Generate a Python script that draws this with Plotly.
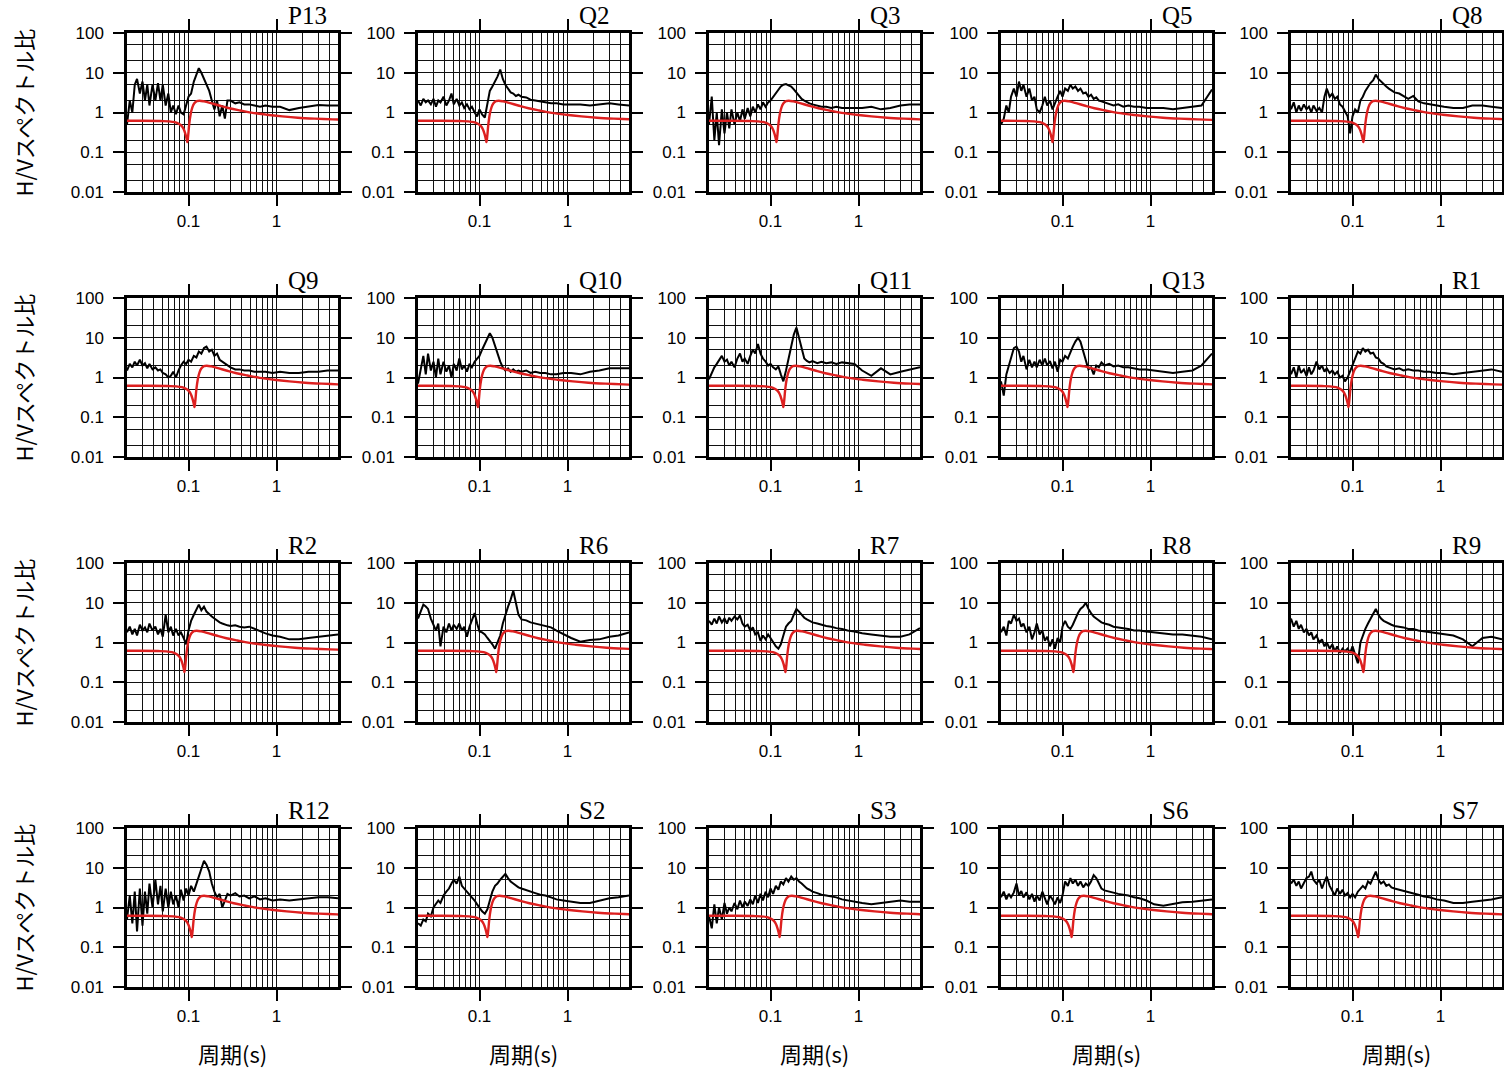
import plotly.graph_objects as go

# ---------------- data ----------------
STATIONS = ["P13", "Q2", "Q3", "Q5", "Q8",
            "Q9", "Q10", "Q11", "Q13", "R1",
            "R2", "R6", "R7", "R8", "R9",
            "R12", "S2", "S3", "S6", "S7"]

# periods (s) at which the observed H/V ratios were read
PERIOD = [0.020, 0.0215, 0.023, 0.0245, 0.026, 0.028, 0.030, 0.032, 0.034, 0.036,
          0.039, 0.042, 0.045, 0.048, 0.051, 0.055, 0.059, 0.063, 0.067, 0.072,
          0.077, 0.082, 0.088, 0.094, 0.100, 0.107, 0.115, 0.123, 0.131, 0.140,
          0.150, 0.160, 0.172, 0.184, 0.197, 0.211, 0.226, 0.242, 0.259, 0.277,
          0.30, 0.34, 0.38, 0.43, 0.49, 0.56, 0.65, 0.75, 0.90, 1.1,
          1.4, 1.8, 2.3, 3.0, 3.8, 5.0]

HV_P13 = [0.5, 2.0, 1.0, 5.0, 7.0, 3.0, 6.0, 2.0, 5.0, 1.5,
          5.0, 2.0, 5.5, 2.0, 5.0, 1.5, 3.0, 1.0, 1.5, 0.9,
          1.5, 1.0, 0.9, 1.5, 2.5, 3.0, 6.0, 9.0, 13.0, 10.0,
          7.0, 5.0, 3.5, 2.0, 1.2, 2.0, 0.8, 1.5, 0.7, 2.0,
          2.0, 1.7, 1.8, 1.6, 1.6, 1.5, 1.4, 1.5, 1.4, 1.4,
          1.15, 1.3, 1.4, 1.55, 1.5, 1.5]
HV_Q2 = [2.0, 1.5, 2.2, 1.8, 2.0, 1.6, 2.2, 1.4, 2.0, 1.8,
         2.5, 1.5, 2.0, 3.0, 1.6, 2.2, 1.5, 1.8, 1.3, 1.6,
         1.2, 1.4, 1.0, 0.8, 1.2, 0.9, 0.75, 1.8, 3.5, 4.5,
         6.0, 8.0, 12.0, 7.0, 5.0, 4.0, 3.2, 3.0, 2.6, 2.8,
         2.5, 2.4, 2.1, 2.0, 1.9, 1.8, 1.7, 1.7, 1.6, 1.6,
         1.6, 1.5, 1.6, 1.7, 1.6, 1.5]
HV_Q3 = [0.5, 2.5, 0.2, 1.0, 0.15, 1.2, 0.3, 1.0, 0.4, 1.2,
         0.5, 1.0, 0.6, 1.2, 0.7, 1.3, 0.8, 1.4, 1.0, 1.6,
         1.2, 1.8, 1.4, 1.8, 2.0, 2.5, 3.0, 3.8, 4.5, 5.0,
         5.2, 4.8, 4.5, 3.8, 3.2, 2.6, 2.2, 2.0, 1.8, 1.7,
         1.6, 1.5, 1.4, 1.4, 1.3, 1.4, 1.3, 1.3, 1.3, 1.3,
         1.4, 1.2, 1.3, 1.5, 1.6, 1.6]
HV_Q5 = [0.5, 0.7, 1.5, 1.0, 2.5, 4.0, 2.5, 6.0, 3.5, 5.0,
         2.5, 4.0, 2.0, 2.5, 1.2, 1.0, 1.5, 2.5, 1.5, 2.0,
         1.2, 1.8, 2.5, 3.5, 2.5, 4.0, 3.5, 5.0, 4.0, 4.5,
         3.5, 4.0, 3.0, 3.2, 2.5, 2.8, 2.2, 2.4, 2.0, 1.9,
         1.8, 1.6, 1.5, 1.6, 1.4, 1.5, 1.4, 1.4, 1.3, 1.3,
         1.3, 1.2, 1.3, 1.4, 1.5, 3.8]
HV_Q8 = [1.2, 1.8, 1.0, 1.5, 1.1, 1.6, 1.2, 1.4, 1.0, 1.5,
         1.1, 1.3, 1.0, 2.5, 4.0, 2.5, 3.0, 2.2, 2.5, 1.6,
         1.4, 1.1, 0.8, 0.3, 0.8, 1.2, 1.0, 2.0, 2.5, 3.5,
         4.5, 5.5, 6.5, 9.0, 7.0, 6.0, 5.0, 4.5, 4.0, 3.6,
         3.2, 3.0, 2.6, 2.2, 2.6, 1.9, 1.7, 1.6, 1.5, 1.4,
         1.3, 1.3, 1.5, 1.5, 1.4, 1.3]
HV_Q9 = [1.5, 2.2, 1.8, 2.5, 2.0, 2.8, 2.0, 2.3, 1.7, 2.2,
         1.6, 1.8, 1.5, 1.6, 1.3, 1.2, 1.0, 1.1, 1.4, 1.0,
         1.5, 2.0, 2.5, 2.2, 2.8, 2.5, 3.5, 3.2, 4.5, 4.0,
         5.5, 6.0, 4.5, 5.0, 3.5, 4.0, 2.8, 2.5, 2.2, 2.0,
         1.8, 1.6, 1.6, 1.5, 1.5, 1.4, 1.4, 1.4, 1.3, 1.4,
         1.3, 1.3, 1.4, 1.4, 1.5, 1.5]
HV_Q10 = [0.7, 1.5, 3.5, 1.2, 4.0, 1.5, 2.5, 1.0, 3.0, 1.2,
          2.5, 1.4, 2.0, 1.0, 2.2, 1.5, 3.0, 1.6, 2.0, 1.4,
          2.2, 1.8, 2.5, 3.0, 3.5, 5.0, 7.0, 9.0, 13.0, 10.0,
          6.0, 4.0, 2.5, 1.8, 1.5, 1.7, 1.4, 1.6, 1.4, 1.5,
          1.4, 1.5, 1.3, 1.4, 1.3, 1.3, 1.2, 1.2, 1.3, 1.3,
          1.2, 1.4, 1.5, 1.7, 1.7, 1.7]
HV_Q11 = [0.9, 1.3, 1.8, 2.2, 2.8, 3.5, 2.5, 2.8, 2.0, 2.5,
          1.8, 3.0, 4.0, 2.5, 3.0, 2.2, 3.5, 5.0, 4.0, 7.0,
          4.0, 3.0, 2.5, 2.0, 2.2, 1.8, 1.6, 1.9, 1.2, 0.8,
          1.5, 3.0, 6.0, 12.0, 18.0, 10.0, 5.0, 3.0, 2.6, 2.4,
          2.6, 2.3, 2.5, 2.3, 2.4, 2.2, 2.4, 2.3, 2.2, 1.5,
          1.1, 1.7, 1.2, 1.4, 1.6, 1.8]
HV_Q13 = [0.8, 0.35, 1.2, 2.0, 3.5, 5.5, 6.0, 4.5, 2.5, 3.5,
          1.6, 2.8, 1.8, 2.5, 1.8, 2.8, 2.0, 3.0, 2.0, 2.6,
          1.7, 2.5, 1.4, 2.8, 2.5, 3.5, 3.0, 4.5, 6.0, 8.0,
          10.0, 8.0, 4.5, 2.5, 1.6, 1.8, 1.2, 2.0, 1.8, 2.4,
          2.0, 2.2, 1.9, 2.0, 1.8, 1.8, 1.7, 1.6, 1.6, 1.5,
          1.4, 1.3, 1.4, 1.5, 2.0, 4.0]
HV_R1 = [1.2, 1.8, 1.0, 2.0, 1.3, 1.6, 1.1, 1.8, 1.2, 1.5,
         2.5, 1.6, 2.0, 1.4, 1.7, 1.3, 1.5, 1.2, 1.4, 1.0,
         1.1, 0.8, 1.0, 1.4, 2.0, 3.0, 4.5, 4.0, 5.5, 4.5,
         5.0, 4.0, 4.2, 3.2, 3.0, 2.4, 2.2, 1.9, 1.8, 1.7,
         1.6, 1.7, 1.5, 1.6, 1.5, 1.5, 1.4, 1.4, 1.3, 1.3,
         1.2, 1.3, 1.4, 1.5, 1.6, 1.4]
HV_R2 = [1.8, 2.5, 1.6, 2.2, 1.5, 2.8, 2.0, 2.4, 1.8, 3.0,
         2.0, 2.5, 1.6, 2.2, 1.4, 5.0, 1.8, 2.5, 1.5, 2.2,
         1.5, 1.8, 1.3, 0.9, 2.0, 3.5, 5.0, 7.0, 9.0, 6.5,
         8.0, 6.0, 5.0, 4.5, 4.0, 3.5, 3.2, 3.0, 2.8, 2.7,
         2.6, 2.7, 2.5, 2.4, 2.5, 2.2, 1.9, 1.7, 1.5, 1.4,
         1.2, 1.2, 1.3, 1.4, 1.5, 1.6]
HV_R6 = [4.0, 6.0, 9.0, 8.0, 7.0, 4.0, 2.8, 2.0, 3.0, 0.8,
         2.5, 1.8, 3.0, 2.0, 2.8, 2.2, 3.0, 2.0, 2.5, 1.4,
         2.5, 3.5, 5.5, 3.0, 1.9, 1.8, 1.6, 1.3, 1.1, 0.9,
         0.7, 1.0, 1.5, 3.0, 5.0, 8.0, 12.0, 20.0, 10.0, 5.0,
         3.8, 3.6, 3.2, 3.0, 2.8, 2.6, 2.4, 2.0, 1.6, 1.3,
         1.05, 1.15, 1.2, 1.4, 1.5, 1.8]
HV_R7 = [3.5, 2.8, 4.0, 3.0, 4.5, 3.2, 4.0, 3.0, 4.2, 3.5,
         4.5, 3.8, 4.8, 3.0, 2.5, 2.8, 2.0, 2.4, 1.6, 1.8,
         1.1, 1.5, 1.2, 1.6, 1.3, 1.0, 0.8, 0.7, 0.9, 1.5,
         2.5, 3.0, 3.5, 5.0, 7.0, 6.0, 5.0, 4.2, 3.8, 3.5,
         3.2, 3.0, 2.8, 2.6, 2.5, 2.3, 2.2, 2.0, 1.9, 1.7,
         1.6, 1.5, 1.4, 1.4, 1.6, 2.3]
HV_R8 = [1.8, 2.5, 1.5, 3.5, 3.0, 5.0, 3.5, 4.0, 2.5, 3.0,
         1.8, 2.5, 1.2, 1.8, 3.0, 1.6, 2.0, 1.1, 1.4, 0.8,
         1.2, 0.7, 1.3, 1.0, 2.5, 3.5, 2.5, 2.2, 2.8, 4.0,
         5.5, 7.0, 8.0, 10.0, 7.0, 5.5, 4.5, 4.0, 3.5, 3.2,
         3.0, 2.8, 2.5, 2.4, 2.3, 2.2, 2.0, 2.0, 1.9, 1.8,
         1.7, 1.6, 1.6, 1.5, 1.4, 1.2]
HV_R9 = [4.0, 2.5, 3.5, 2.2, 2.8, 1.8, 2.2, 1.5, 1.8, 1.2,
         1.5, 1.0, 1.2, 0.8, 1.0, 0.7, 0.9, 0.6, 0.8, 0.55,
         0.7, 0.6, 0.7, 0.55, 0.8, 0.5, 0.3, 1.0, 1.5, 2.2,
         3.0, 4.0, 5.5, 7.0, 5.0, 4.0, 3.5, 3.2, 3.0, 2.8,
         2.6, 2.5, 2.4, 2.2, 2.2, 2.0, 1.9, 1.8, 1.7, 1.6,
         1.5, 1.2, 0.8, 1.3, 1.4, 1.2]
HV_R12 = [0.5, 2.0, 0.4, 2.5, 0.25, 3.0, 0.35, 2.5, 0.7, 4.0,
          1.0, 5.0, 1.2, 3.5, 0.8, 3.0, 1.0, 2.5, 1.2, 2.0,
          1.0, 2.8, 1.5, 3.0, 2.0, 3.5, 2.5, 4.0, 6.0, 10.0,
          15.0, 12.0, 8.0, 4.0, 2.5, 1.8, 2.2, 1.0, 1.5, 2.2,
          2.0, 2.3, 1.9, 2.0, 1.7, 1.9, 1.6, 1.7, 1.5, 1.6,
          1.5, 1.6, 1.7, 1.8, 1.8, 1.7]
HV_S2 = [0.4, 0.35, 0.5, 0.45, 0.7, 0.6, 1.0, 1.2, 1.5, 1.3,
         2.0, 2.5, 3.0, 4.0, 5.0, 4.0, 6.0, 3.5, 3.0, 2.5,
         2.2, 1.8, 1.5, 1.2, 1.0, 0.8, 0.7, 0.9, 1.5, 2.5,
         3.5, 4.0, 5.0, 6.0, 7.0, 5.5, 4.5, 4.0, 3.5, 3.2,
         3.0, 2.7, 2.5, 2.3, 2.1, 2.0, 1.8, 1.6, 1.5, 1.4,
         1.3, 1.3, 1.5, 1.7, 1.8, 2.0]
HV_S3 = [0.6, 0.3, 1.2, 0.4, 1.0, 0.5, 1.3, 0.7, 1.0, 0.8,
         1.3, 0.9, 1.5, 1.0, 1.4, 1.1, 1.6, 1.2, 2.0, 1.3,
         2.2, 1.5, 2.5, 1.8, 3.0, 2.2, 3.5, 2.8, 4.5, 3.8,
         5.5, 4.5, 6.0, 5.0, 5.5, 4.5, 4.0, 3.5, 3.0, 2.8,
         2.5, 2.3, 2.1, 2.0, 1.9, 1.8, 1.6, 1.5, 1.4, 1.3,
         1.2, 1.3, 1.4, 1.5, 1.4, 1.4]
HV_S6 = [1.8, 2.5, 1.6, 2.2, 1.8, 2.4, 4.0, 2.0, 2.6, 1.8,
         2.4, 1.6, 2.2, 1.4, 2.0, 1.5, 2.5, 1.6, 1.2, 2.0,
         1.6, 1.2, 1.8, 1.3, 2.0, 4.5, 3.5, 5.5, 4.0, 5.0,
         3.5, 4.5, 3.2, 4.0, 3.5, 4.5, 6.5, 5.5, 4.0, 3.0,
         2.7, 2.5, 2.4, 2.2, 2.1, 2.0, 1.8, 1.7, 1.5, 1.2,
         1.1, 1.2, 1.35, 1.4, 1.5, 1.6]
HV_S7 = [4.0, 5.0, 3.5, 4.5, 3.0, 4.0, 5.5, 6.0, 8.0, 5.0,
         4.0, 5.0, 3.0, 4.5, 6.0, 3.5, 2.5, 2.0, 3.0, 2.2,
         2.8, 2.0, 2.3, 1.8, 2.2, 1.8, 2.5, 3.0, 3.5, 3.0,
         4.5, 4.0, 6.0, 8.0, 5.0, 4.0, 4.5, 3.5, 3.8, 3.2,
         3.0, 2.8, 2.6, 2.5, 2.3, 2.1, 1.9, 1.8, 1.6, 1.5,
         1.3, 1.3, 1.4, 1.5, 1.6, 1.8]

OBSERVED = [HV_P13, HV_Q2, HV_Q3, HV_Q5, HV_Q8,
            HV_Q9, HV_Q10, HV_Q11, HV_Q13, HV_R1,
            HV_R2, HV_R6, HV_R7, HV_R8, HV_R9,
            HV_R12, HV_S2, HV_S3, HV_S6, HV_S7]

# theoretical H/V curve: shape read relative to its trough period
RED_RATIO = [0.1, 0.3, 0.5, 0.62, 0.72, 0.8, 0.86, 0.91, 0.95, 0.98,
             1.0, 1.02, 1.05, 1.09, 1.14, 1.2, 1.28, 1.38, 1.55, 1.8,
             2.3, 3.0, 4.0, 5.5, 8.0, 12.0, 18.0, 28.0, 45.0, 70.0]
RED_VALUE = [0.62, 0.62, 0.61, 0.6, 0.57, 0.52, 0.46, 0.38, 0.29, 0.22,
             0.18, 0.25, 0.5, 0.9, 1.35, 1.7, 1.93, 1.98, 1.9, 1.75,
             1.5, 1.28, 1.12, 0.98, 0.88, 0.8, 0.74, 0.7, 0.67, 0.65]
# trough period (s) of the theoretical curve at each station
RED_TROUGH = [0.097, 0.120, 0.117, 0.077, 0.133,
              0.117, 0.096, 0.140, 0.114, 0.090,
              0.090, 0.155, 0.148, 0.133, 0.133,
              0.109, 0.123, 0.127, 0.127, 0.116]

X_TICKS = [0.1, 1]
X_TICKTEXT = ["0.1", "1"]
X_MINOR = [0.02, 0.03, 0.04, 0.05, 0.06, 0.07, 0.08, 0.09,
           0.2, 0.3, 0.4, 0.5, 0.6, 0.7, 0.8, 0.9, 2, 3, 4, 5]
Y_TICKS = [0.01, 0.1, 1, 10, 100]
Y_TICKTEXT = ["0.01", "0.1", "1", "10", "100"]
Y_MINOR = [0.02, 0.05, 0.2, 0.5, 2, 5, 20, 50]

# ---------------- layout ----------------
W, H = 1504, 1070
COL_LEFT = [127, 418, 709, 1001, 1291]
ROW_TOP = [33, 298, 563, 828]
PW, PH = 211, 159

fig = go.Figure()
annotations = []
tick_font = dict(family="Liberation Sans, Arial, sans-serif", size=17, color="black")
grid_color = "#111111"

for i, name in enumerate(STATIONS):
    r, c = divmod(i, 5)
    sfx = "" if i == 0 else str(i + 1)
    xa, ya = "x" + sfx, "y" + sfx
    left, top = COL_LEFT[c], ROW_TOP[r]

    fig.add_trace(go.Scatter(x=PERIOD, y=OBSERVED[i], mode="lines",
                             line=dict(color="black", width=2),
                             xaxis=xa, yaxis=ya, showlegend=False,
                             hoverinfo="skip"))
    red_x = [RED_TROUGH[i] * q for q in RED_RATIO]
    fig.add_trace(go.Scatter(x=red_x, y=RED_VALUE, mode="lines",
                             line=dict(color="#dd2020", width=2.4, shape="spline"),
                             xaxis=xa, yaxis=ya, showlegend=False,
                             hoverinfo="skip"))

    xaxis = dict(
        domain=[left / W, (left + PW) / W],
        anchor=ya, type="log", range=[-1.69897, 0.69897],
        tickmode="array", tickvals=X_TICKS, ticktext=X_TICKTEXT,
        ticks="outside", ticklen=11, tickwidth=1.5, tickcolor="black",
        tickfont=tick_font, ticklabelstandoff=1,
        showline=True, linewidth=2.5, linecolor="black", mirror="allticks",
        showgrid=True, gridcolor=grid_color, gridwidth=1.2,
        minor=dict(tickmode="array", tickvals=X_MINOR, showgrid=True,
                   gridcolor=grid_color, gridwidth=1.2, ticks=""),
        zeroline=False, fixedrange=True, automargin=False,
    )
    yaxis = dict(
        domain=[1 - (top + PH) / H, 1 - top / H],
        anchor=xa, type="log", range=[-2, 2],
        tickmode="array", tickvals=Y_TICKS, ticktext=Y_TICKTEXT,
        ticks="outside", ticklen=11, tickwidth=1.5, tickcolor="black",
        tickfont=tick_font, ticklabelstandoff=6,
        showline=True, linewidth=2.5, linecolor="black", mirror="allticks",
        showgrid=True, gridcolor=grid_color, gridwidth=1.2,
        minor=dict(tickmode="array", tickvals=Y_MINOR, showgrid=True,
                   gridcolor=grid_color, gridwidth=1.2, ticks=""),
        zeroline=False, fixedrange=True, automargin=False,
    )
    fig.layout["xaxis" + sfx] = xaxis
    fig.layout["yaxis" + sfx] = yaxis

    annotations.append(dict(
        text=name, xref="paper", yref="paper",
        x=(left + 159) / W, y=1 - (top - 2) / H,
        xanchor="left", yanchor="bottom", showarrow=False,
        font=dict(family="Liberation Serif, Times New Roman, serif", size=25, color="black"),
    ))

for r in range(4):
    annotations.append(dict(
        text="H/Vスペクトル比", xref="paper", yref="paper",
        x=22 / W, y=1 - (ROW_TOP[r] + PH / 2) / H,
        xanchor="center", yanchor="middle", textangle=-90, showarrow=False,
        font=dict(family="Noto Sans CJK JP, sans-serif", size=22, color="black"),
    ))
for c in range(5):
    annotations.append(dict(
        text="周期(s)", xref="paper", yref="paper",
        x=(COL_LEFT[c] + PW / 2) / W, y=1 - 1053 / H,
        xanchor="center", yanchor="middle", showarrow=False,
        font=dict(family="Noto Sans CJK JP, sans-serif", size=22, color="black"),
    ))

fig.update_layout(
    width=W, height=H,
    margin=dict(l=0, r=0, t=0, b=0, autoexpand=False),
    paper_bgcolor="white", plot_bgcolor="white",
    annotations=annotations,
    showlegend=False,
)

fig.write_html("out.html",
               config={"displayModeBar": False},
               post_script="document.body.style.margin='0';document.body.style.padding='0';")
